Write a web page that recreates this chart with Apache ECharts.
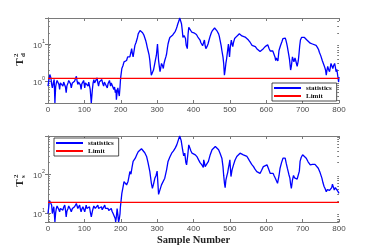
<!DOCTYPE html>
<html><head><meta charset="utf-8">
<script src="https://cdn.jsdelivr.net/npm/echarts@6/dist/echarts.min.js"></script>
<style>html,body{margin:0;padding:0;background:#fff}#c{width:374px;height:249px}</style>
</head><body><div id="c"></div>
<script>
const topSamples = [0,2,5,8,10,12,15,17,19,21,23,25,27,30,32,34,36,38,41,43,46,48,50,52,55,57,60,62,64,67,69,71,73,75,78,80,82,84,87,89,91,93,96,98,101,103,105,107,110,112,114,116,119,122,124,126,128,130,132,135,137,139,141,144,146,148,150,153,155,158,160,163,165,167,169,172,174,176,178,181,183,185,187,188,190,192,194,196,198,199,
200,203,206,209,213,216,219,222,225,228,230,232,234,237,239,242,244,246,248,251,253,255,257,260,262,264,266,269,271,273,275,278,280,282,284,287,290,292,295,298,301,304,306,308,310,312,315,317,319,321,324,326,328,330,333,335,339,343,348,350,353,355,357,360,362,364,367,369,371,374,376,378,380,383,385,387,390,392,395,398,401,405,408,410,412,415,418,420,423,425,427,430,432,434,437,440,443,446,449,452,455,458,461,464,467,469,471,473,476,478,481,483,485,487,489,491,493,496,499,501,504,506,508,510,513,516,520,523,526,529,533,537,542,546,551,556,561,565,570,574,579,583,588,592,597,601,604,606,608,611,615,618,621,624,626,628,630,632,635,639,643,646,649,652,654,656,658,660,662,664,667,669,672,674,676,679,681,683,685,688,690,692,694,697,699,702,705,707,711,716,721,727,732,737,741,744,746,750,754,757,760,763,765,767,769,771,774,776,778,781,783,785,788,790,792,794,797,799,800];
const topValues = [0.74,1.0,1.51,1.23,0.82,0.66,0.95,1.11,0.26,0.7,0.9,1.05,1.11,0.82,0.6,0.9,1.0,0.85,0.74,0.95,1.0,0.7,0.49,0.75,0.9,1.05,1.11,0.85,0.66,0.9,0.82,0.95,1.0,1.1,1.36,1.0,0.82,0.95,1.0,0.8,0.6,0.85,0.9,1.05,0.66,0.9,1.0,0.85,0.74,0.95,0.9,0.6,0.26,0.6,0.9,1.11,0.9,0.82,1.0,1.23,0.9,0.74,0.95,1.0,0.85,1.11,0.9,0.74,0.95,0.9,1.0,0.66,0.85,0.9,1.05,0.74,0.9,0.82,1.0,0.6,0.7,0.49,0.6,0.32,0.5,0.66,0.5,0.4,0.7,1.0,
1.31,2.2,2.6,3.3,3.0,3.6,4.5,4.0,4.5,6,7.5,5.5,4.5,7,9.2,11,12.8,15,18.8,21,23,22,21,20,18.8,17,15.4,12,10,8,6.7,5,3.6,2.2,1.45,1.37,2,2.5,3.6,5,10,3.6,2.5,1.8,2.3,3.0,2.6,2.2,3,3.6,4.5,5.4,7.5,10,13,15,16.5,17.5,18.8,22,26,30,35,42,50,44,35,24,15,17,18.8,14,9.2,7.5,18,28,27,26,21,18.8,20,21,18,16.5,15.4,14,12.8,11,10,9,8.5,12.8,9,7.5,8.5,10,13,16.5,20,23,25,27,25,23,21,18.8,16,12.8,9,6.7,4.5,3.0,1.45,2,3,4,4.5,10,4.5,8,12.8,10,8.5,11,14,15.5,16.5,18,18.8,18,16.5,16,15.4,14,12.8,11,9.2,8.8,8.5,7.5,6.7,6.3,6.7,7.5,8.5,9.2,9.5,9.2,7.5,6.5,6,6.5,5.4,4.5,3.6,4.2,4,3.5,6.7,9,11.5,14,15.4,14.5,12.8,10.5,8.5,6.5,5,3.8,2.0,2.5,4.5,4,3.3,4.2,3.6,3,2.5,3.5,5.4,9,12.8,15,16.5,16,15,14,13,11.5,10.5,10,9.8,9.2,8,7,6,4.8,3.6,3,2.5,2,1.45,2,2.5,2.1,1.8,2.3,3,2.5,2.2,2.6,3,2.4,1.8,2.1,1.3,0.95,1.3];

const botSamples = [0,2,4,7,10,12,14,16,19,21,23,25,27,30,32,34,36,38,41,43,46,48,50,52,55,57,60,62,64,67,69,71,73,75,78,80,82,84,87,89,91,93,96,98,101,103,105,107,110,112,114,116,119,122,124,126,128,130,133,135,137,139,142,144,147,149,151,153,156,158,160,163,165,167,169,172,174,176,179,181,183,185,186,188,190,192,194,196,198,199,
201,203,206,209,212,216,220,223,225,228,231,234,237,240,244,248,252,257,262,266,271,275,280,284,287,290,294,297,300,302,304,308,312,317,321,326,330,335,340,345,350,354,358,362,366,370,373,376,379,381,384,387,390,393,396,400,405,410,414,418,423,427,428,430,432,436,441,446,451,455,460,464,469,473,478,481,483,485,487,489,492,494,496,498,500,503,506,510,514,519,523,528,533,537,542,547,551,555,560,565,569,574,578,583,587,592,597,602,606,611,615,619,622,625,628,631,635,638,642,646,649,652,655,658,662,665,667,669,672,675,678,682,685,688,691,693,696,700,705,710,715,721,727,734,738,743,748,753,756,759,762,765,768,771,774,777,780,782,785,787,790,794,797,800];
const botValues = [9.6,14,21,21,15.9,9.6,12,14.4,5.8,10,13,15,15.9,12,10.6,13,14.4,12.5,11.8,14,15.9,12,7.9,11,13,15,14.4,12,10.6,13,13,14,14.4,15,17.5,15,13,14,15.9,12.5,10.6,12.5,14.4,15,10.6,13,15.9,13,11.8,13.5,14.4,11,7.9,11,13,15,15.9,13,11.8,14,15.9,13,13,14,14.4,12,11.8,13.5,15.9,13,11.8,12.5,13,11.5,10.6,12,13,11,9.6,10,8.7,7,5.8,8,13,9,5.8,7,9.6,14,
21,32,45,64,60,53,65,90,117,100,150,214,190,260,318,380,420,455,420,360,288,200,117,60,43,55,80,93,120,60,30,40,53,50,79,130,214,280,350,400,480,575,750,975,750,430,300,350,200,175,300,575,480,400,350,330,318,280,235,200,175,150,235,200,157,170,214,320,430,480,520,480,430,350,260,160,93,60,45,70,93,110,143,180,235,87,130,175,230,288,320,350,330,318,300,288,250,214,180,157,135,117,110,105,125,157,165,175,140,105,110,105,90,79,85,58,90,143,200,260,280,260,190,143,100,79,55,43,70,93,80,79,75,71,120,214,270,318,290,260,210,175,180,180,165,143,110,79,60,48,42,35,40,43,38,35,45,55,45,39,45,43,36,32];

const topLimit = 1.2;
const botLimit = 18.6;
const topRange = [0.26, 50];
const botRange = [5.8, 975];
const xRange = [0, 800];
const xStep = 100;
const legendNames = ['statistics', 'Limit'];

const AX = '#7a7a7a';
const LBL = '#4a4a4a';
const pairs = (xs, ys) => xs.map((x, i) => [x, ys[i]]);
function minorTicks(lo, hi) {
  const out = [];
  for (let e = Math.floor(Math.log10(lo)); e <= Math.ceil(Math.log10(hi)); e++)
    for (let m = 2; m <= 9; m++) { const v = m * Math.pow(10, e); if (v > lo && v < hi) out.push(v); }
  return out;
}
function xAxes(g, withName) {
  const base = {type: 'value', gridIndex: g, min: xRange[0], max: xRange[1], interval: xStep,
    axisLine: {show: true, lineStyle: {color: AX, width: 1}},
    axisTick: {show: true, inside: true, length: 3, lineStyle: {color: AX}},
    splitLine: {show: false}};
  const b = Object.assign({}, base, {position: 'bottom',
    axisLabel: {fontSize: 8, color: LBL, margin: 3, fontFamily: 'Liberation Sans'}});
  if (withName) Object.assign(b, {name: 'Sample Number', nameLocation: 'middle', nameGap: 13,
    nameTextStyle: {fontFamily: 'Liberation Serif', fontWeight: 'bold', fontSize: 10.5, color: '#222'}});
  const t = Object.assign({}, base, {position: 'top', axisLabel: {show: false}});
  return [b, t];
}
function yAxes(g, range) {
  const base = {type: 'log', gridIndex: g, min: range[0], max: range[1], splitLine: {show: false}};
  const major = {show: true, inside: true, length: 3, lineStyle: {color: AX}};
  const minor = {show: true, inside: true, length: 1.8, lineStyle: {color: AX}, customValues: minorTicks(range[0], range[1])};
  return [
    Object.assign({}, base, {position: 'left', axisLine: {show: true, lineStyle: {color: AX}}, axisTick: major,
      axisLabel: {margin: 3, color: LBL, fontFamily: 'Liberation Sans',
        formatter: v => { const e = Math.log10(v); if (Math.abs(e - Math.round(e)) > 1e-6) return ''; return '{b|10}{s|' + Math.round(e) + '}'; },
        rich: {b: {fontSize: 8, color: LBL, fontFamily: 'Liberation Sans', lineHeight: 11, verticalAlign: 'bottom'},
               s: {fontSize: 5.5, color: LBL, fontFamily: 'Liberation Sans', lineHeight: 6, verticalAlign: 'top'}}}}),
    Object.assign({}, base, {position: 'right', axisLine: {show: true, lineStyle: {color: AX}}, axisTick: major, axisLabel: {show: false}}),
    Object.assign({}, base, {position: 'left', axisLine: {show: false}, axisTick: minor, axisLabel: {show: false}}),
    Object.assign({}, base, {position: 'right', axisLine: {show: false}, axisTick: minor, axisLabel: {show: false}})
  ];
}
function legend(left, top) {
  return {left, top, orient: 'vertical', itemWidth: 27, itemHeight: 2, itemGap: 0, icon: 'rect',
    padding: [1, 5, 1, 2], borderColor: '#222', borderWidth: 0.8, backgroundColor: '#fff', selectedMode: false,
    textStyle: {fontFamily: 'Liberation Serif', fontWeight: 'bold', fontSize: 7, color: '#111', lineHeight: 8},
    data: legendNames};
}
function yName(x, y, sub) {
  const f = {fontFamily: 'Liberation Serif', fontWeight: 'bold', fill: '#222'};
  return {type: 'group', x, y, rotation: Math.PI / 2, children: [
    {type: 'text', x: 0, y: 0, style: Object.assign({text: 'T', fontSize: 11, align: 'center', verticalAlign: 'middle'}, f)},
    {type: 'text', x: 5, y: -4, style: Object.assign({text: '2', fontSize: 7, align: 'left', verticalAlign: 'middle'}, f)},
    {type: 'text', x: 5, y: 3, style: Object.assign({text: sub, fontSize: 7, align: 'left', verticalAlign: 'middle'}, f)}
  ]};
}
const line = (name, xi, yi, data, color, w) => ({name, type: 'line', xAxisIndex: xi, yAxisIndex: yi, data,
  showSymbol: false, symbol: 'none', color, lineStyle: {color, width: w}, clip: true, animation: false});

const chart = echarts.init(document.getElementById('c'), null, {renderer: 'canvas'});
chart.setOption({
  animation: false,
  backgroundColor: '#fff',
  grid: [{left: 48, top: 18, width: 291, height: 85}, {left: 48, top: 136, width: 291, height: 86}],
  xAxis: [...xAxes(0, false), ...xAxes(1, true)],
  yAxis: [...yAxes(0, topRange), ...yAxes(1, botRange)],
  legend: [legend(272, 83), legend(54, 138)],
  graphic: [yName(20, 62, 'd'), yName(20, 183, 's')],
  series: [
    line('statistics', 0, 0, pairs(topSamples, topValues), '#0000ff', 1.3),
    line('Limit', 0, 0, [[xRange[0], topLimit], [xRange[1], topLimit]], '#ff0000', 1.2),
    line('statistics', 2, 4, pairs(botSamples, botValues), '#0000ff', 1.3),
    line('Limit', 2, 4, [[xRange[0], botLimit], [xRange[1], botLimit]], '#ff0000', 1.2)
  ]
});
</script></body></html>
